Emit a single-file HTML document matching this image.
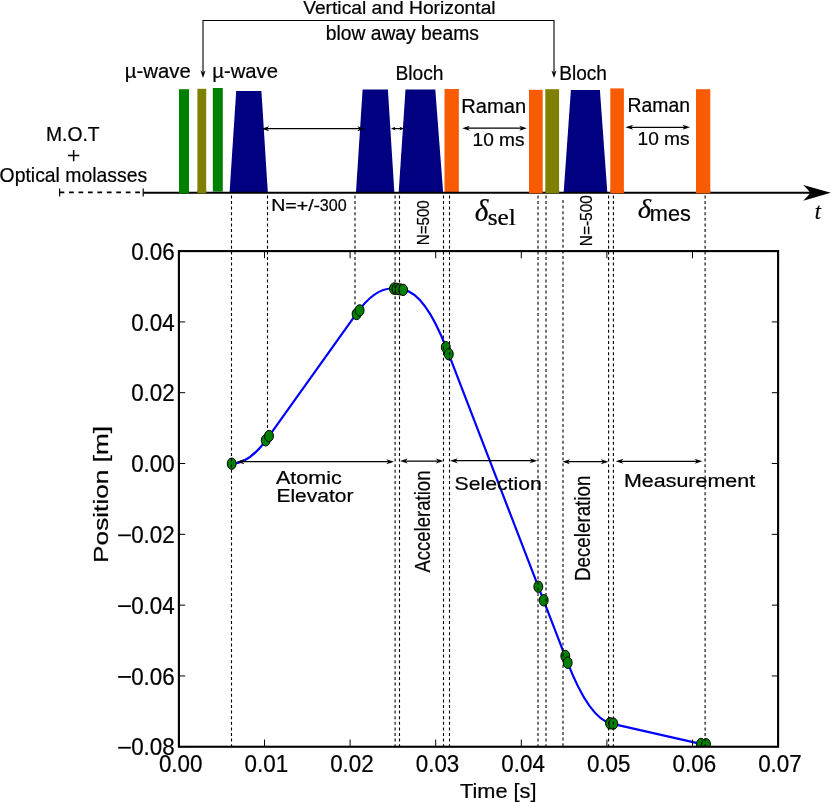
<!DOCTYPE html>
<html><head><meta charset="utf-8"><title>Figure</title>
<style>
html,body{margin:0;padding:0;background:#fff;}
body{width:831px;height:802px;overflow:hidden;font-family:"Liberation Sans",sans-serif;}
svg{display:block;will-change:transform;transform:translateZ(0);}
text{fill:#000;stroke:#000;stroke-width:0.22px;}
</style></head><body>
<svg width="831" height="802" viewBox="0 0 831 802">
<rect width="831" height="802" fill="#fff"/>
<line x1="59.6" y1="192.3" x2="143.2" y2="192.3" stroke="#000" stroke-width="1.7" stroke-dasharray="4.75 4.7"/>
<line x1="59.6" y1="188.6" x2="59.6" y2="196.4" stroke="#000" stroke-width="1.2"/>
<line x1="143.2" y1="188.6" x2="143.2" y2="196.4" stroke="#000" stroke-width="1.2"/>
<rect x="179.0" y="89.2" width="10.00" height="104.10" fill="#008000"/>
<rect x="197.4" y="88.8" width="8.80" height="104.50" fill="#808000"/>
<rect x="212.8" y="88.0" width="10.00" height="103.60" fill="#008000"/>
<polygon points="236.2,91.0 261.4,91.0 267.8,192.0 229.6,192.0" fill="#000080"/>
<polygon points="362.6,89.4 387.9,89.4 394.3,192.0 356.0,192.0" fill="#000080"/>
<polygon points="405.5,89.4 435.3,89.4 443.1,192.0 398.7,192.0" fill="#000080"/>
<rect x="444.5" y="89.0" width="14.35" height="103.50" fill="#f95b02"/>
<rect x="529.0" y="89.8" width="13.70" height="103.50" fill="#f95b02"/>
<rect x="545.3" y="89.2" width="13.80" height="104.10" fill="#808000"/>
<polygon points="570.9,90.0 599.9,90.0 607.3,192.0 563.7,192.0" fill="#000080"/>
<rect x="610.3" y="88.4" width="13.60" height="104.90" fill="#f95b02"/>
<rect x="696.0" y="89.2" width="14.30" height="104.10" fill="#f95b02"/>
<line x1="143.4" y1="192.75" x2="812" y2="192.75" stroke="#000" stroke-width="2"/>
<rect x="179.0" y="190" width="10.00" height="3.30" fill="#008000"/>
<rect x="197.4" y="190" width="8.80" height="3.30" fill="#808000"/>
<rect x="529.0" y="190" width="13.70" height="3.30" fill="#f95b02"/>
<rect x="545.3" y="190" width="13.80" height="3.30" fill="#808000"/>
<rect x="610.3" y="190" width="13.60" height="3.30" fill="#f95b02"/>
<rect x="696.0" y="190" width="14.30" height="3.30" fill="#f95b02"/>
<path d="M830.8,192.75 L803.2,185.0 Q808,189.5 810.4,192.75 Q808,196.2 803.2,200.7 Z" fill="#000"/>
<path d="M68,155.6 H79.3 M73.65,150 V161.2" stroke="#000" stroke-width="1.5" fill="none"/>
<path d="M203,72 L203,20.5 L554,20.5 L554,72" fill="none" stroke="#000" stroke-width="1.1"/>
<path d="M203.0,77.9 L200.5,70.4 L203.0,72.4 L205.5,70.4 Z" fill="#000"/>
<path d="M554.0,77.9 L551.5,70.4 L554.0,72.4 L556.5,70.4 Z" fill="#000"/>
<line x1="264.5" y1="128.7" x2="362.0" y2="128.7" stroke="#000" stroke-width="1.25"/>
<path d="M261.5,128.7 L269.2,126.14999999999999 L267.0,128.7 L269.2,131.25 Z" fill="#000"/>
<path d="M365.0,128.7 L357.3,126.14999999999999 L359.5,128.7 L357.3,131.25 Z" fill="#000"/>
<line x1="394.0" y1="128.6" x2="401.0" y2="128.6" stroke="#000" stroke-width="1.25"/>
<path d="M391.0,128.6 L395.5,126.8 L394.3,128.6 L395.5,130.4 Z" fill="#000"/>
<path d="M404.0,128.6 L399.5,126.8 L400.7,128.6 L399.5,130.4 Z" fill="#000"/>
<line x1="465.2" y1="128.2" x2="523.9" y2="128.2" stroke="#000" stroke-width="1.25"/>
<path d="M462.2,128.2 L469.9,125.64999999999999 L467.7,128.2 L469.9,130.75 Z" fill="#000"/>
<path d="M526.9,128.2 L519.1999999999999,125.64999999999999 L521.4,128.2 L519.1999999999999,130.75 Z" fill="#000"/>
<line x1="628.5" y1="127.3" x2="687.1" y2="127.3" stroke="#000" stroke-width="1.25"/>
<path d="M625.5,127.3 L633.2,124.75 L631.0,127.3 L633.2,129.85 Z" fill="#000"/>
<path d="M690.1,127.3 L682.4,124.75 L684.6,127.3 L682.4,129.85 Z" fill="#000"/>
<clipPath id="pc"><rect x="178.9" y="251.1" width="599.2" height="495.65"/></clipPath>
<g clip-path="url(#pc)">
<path d="M231.7,463.7 Q249.5,463.7 267.4,438.3 L357,312.95 Q376,286.4 395,288.7 L403.1,289.9 Q425.05,292.9 447,349.7 L567,661.1 Q589.25,718.7 611.5,723.6 L704,744.6" fill="none" stroke="#0000ff" stroke-width="2.2" stroke-linejoin="round"/>
<ellipse cx="231.7" cy="463.7" rx="4.45" ry="5.7" fill="#008000" stroke="#000" stroke-width="1.0"/>
<ellipse cx="265.7" cy="440.3" rx="4.45" ry="5.7" fill="#008000" stroke="#000" stroke-width="1.0"/>
<ellipse cx="269" cy="436" rx="4.45" ry="5.7" fill="#008000" stroke="#000" stroke-width="1.0"/>
<ellipse cx="356.6" cy="314" rx="4.45" ry="5.7" fill="#008000" stroke="#000" stroke-width="1.0"/>
<ellipse cx="359.6" cy="310.4" rx="4.45" ry="5.7" fill="#008000" stroke="#000" stroke-width="1.0"/>
<ellipse cx="394" cy="288.6" rx="4.45" ry="5.7" fill="#008000" stroke="#000" stroke-width="1.0"/>
<ellipse cx="396.5" cy="288.9" rx="4.45" ry="5.7" fill="#008000" stroke="#000" stroke-width="1.0"/>
<ellipse cx="399.8" cy="289.4" rx="4.45" ry="5.7" fill="#008000" stroke="#000" stroke-width="1.0"/>
<ellipse cx="403.1" cy="289.9" rx="4.45" ry="5.7" fill="#008000" stroke="#000" stroke-width="1.0"/>
<ellipse cx="445.8" cy="347.2" rx="4.45" ry="5.7" fill="#008000" stroke="#000" stroke-width="1.0"/>
<ellipse cx="448.8" cy="354.2" rx="4.45" ry="5.7" fill="#008000" stroke="#000" stroke-width="1.0"/>
<ellipse cx="538.3" cy="586.7" rx="4.45" ry="5.7" fill="#008000" stroke="#000" stroke-width="1.0"/>
<ellipse cx="543.7" cy="600.3" rx="4.45" ry="5.7" fill="#008000" stroke="#000" stroke-width="1.0"/>
<ellipse cx="565.3" cy="656" rx="4.45" ry="5.7" fill="#008000" stroke="#000" stroke-width="1.0"/>
<ellipse cx="567.7" cy="662.7" rx="4.45" ry="5.7" fill="#008000" stroke="#000" stroke-width="1.0"/>
<ellipse cx="610" cy="723.3" rx="4.45" ry="5.7" fill="#008000" stroke="#000" stroke-width="1.0"/>
<ellipse cx="613.3" cy="723.7" rx="4.45" ry="5.7" fill="#008000" stroke="#000" stroke-width="1.0"/>
<ellipse cx="701" cy="744" rx="4.45" ry="5.7" fill="#008000" stroke="#000" stroke-width="1.0"/>
<ellipse cx="706" cy="744.3" rx="4.45" ry="5.7" fill="#008000" stroke="#000" stroke-width="1.0"/>
</g>
<rect x="178.9" y="251.1" width="599.2" height="495.65" fill="none" stroke="#000" stroke-width="2.1"/>
<line x1="178.90" y1="746.75" x2="178.90" y2="739.55" stroke="#000" stroke-width="1"/>
<line x1="178.90" y1="251.1" x2="178.90" y2="258.3" stroke="#000" stroke-width="1"/>
<line x1="264.50" y1="746.75" x2="264.50" y2="739.55" stroke="#000" stroke-width="1"/>
<line x1="264.50" y1="251.1" x2="264.50" y2="258.3" stroke="#000" stroke-width="1"/>
<line x1="350.10" y1="746.75" x2="350.10" y2="739.55" stroke="#000" stroke-width="1"/>
<line x1="350.10" y1="251.1" x2="350.10" y2="258.3" stroke="#000" stroke-width="1"/>
<line x1="435.70" y1="746.75" x2="435.70" y2="739.55" stroke="#000" stroke-width="1"/>
<line x1="435.70" y1="251.1" x2="435.70" y2="258.3" stroke="#000" stroke-width="1"/>
<line x1="521.30" y1="746.75" x2="521.30" y2="739.55" stroke="#000" stroke-width="1"/>
<line x1="521.30" y1="251.1" x2="521.30" y2="258.3" stroke="#000" stroke-width="1"/>
<line x1="606.90" y1="746.75" x2="606.90" y2="739.55" stroke="#000" stroke-width="1"/>
<line x1="606.90" y1="251.1" x2="606.90" y2="258.3" stroke="#000" stroke-width="1"/>
<line x1="692.50" y1="746.75" x2="692.50" y2="739.55" stroke="#000" stroke-width="1"/>
<line x1="692.50" y1="251.1" x2="692.50" y2="258.3" stroke="#000" stroke-width="1"/>
<line x1="778.10" y1="746.75" x2="778.10" y2="739.55" stroke="#000" stroke-width="1"/>
<line x1="778.10" y1="251.1" x2="778.10" y2="258.3" stroke="#000" stroke-width="1"/>
<line x1="178.9" y1="251.10" x2="185.20000000000002" y2="251.10" stroke="#000" stroke-width="1"/>
<line x1="778.1" y1="251.10" x2="771.8000000000001" y2="251.10" stroke="#000" stroke-width="1"/>
<line x1="178.9" y1="321.91" x2="185.20000000000002" y2="321.91" stroke="#000" stroke-width="1"/>
<line x1="778.1" y1="321.91" x2="771.8000000000001" y2="321.91" stroke="#000" stroke-width="1"/>
<line x1="178.9" y1="392.71" x2="185.20000000000002" y2="392.71" stroke="#000" stroke-width="1"/>
<line x1="778.1" y1="392.71" x2="771.8000000000001" y2="392.71" stroke="#000" stroke-width="1"/>
<line x1="178.9" y1="463.52" x2="185.20000000000002" y2="463.52" stroke="#000" stroke-width="1"/>
<line x1="778.1" y1="463.52" x2="771.8000000000001" y2="463.52" stroke="#000" stroke-width="1"/>
<line x1="178.9" y1="534.33" x2="185.20000000000002" y2="534.33" stroke="#000" stroke-width="1"/>
<line x1="778.1" y1="534.33" x2="771.8000000000001" y2="534.33" stroke="#000" stroke-width="1"/>
<line x1="178.9" y1="605.14" x2="185.20000000000002" y2="605.14" stroke="#000" stroke-width="1"/>
<line x1="778.1" y1="605.14" x2="771.8000000000001" y2="605.14" stroke="#000" stroke-width="1"/>
<line x1="178.9" y1="675.94" x2="185.20000000000002" y2="675.94" stroke="#000" stroke-width="1"/>
<line x1="778.1" y1="675.94" x2="771.8000000000001" y2="675.94" stroke="#000" stroke-width="1"/>
<line x1="178.9" y1="746.75" x2="185.20000000000002" y2="746.75" stroke="#000" stroke-width="1"/>
<line x1="778.1" y1="746.75" x2="771.8000000000001" y2="746.75" stroke="#000" stroke-width="1"/>
<line x1="231.5" y1="195.4" x2="231.5" y2="746.5" stroke="#000" stroke-width="1.1" stroke-dasharray="3 2.6"/>
<line x1="267.5" y1="195.4" x2="267.5" y2="430.2" stroke="#000" stroke-width="1.1" stroke-dasharray="3 2.6"/>
<line x1="355.0" y1="195.4" x2="355.0" y2="304.6" stroke="#000" stroke-width="1.1" stroke-dasharray="3 2.6"/>
<line x1="395.1" y1="195.4" x2="395.1" y2="746.5" stroke="#000" stroke-width="1.1" stroke-dasharray="3 2.6"/>
<line x1="399.5" y1="195.4" x2="399.5" y2="746.5" stroke="#000" stroke-width="1.1" stroke-dasharray="3 2.6"/>
<line x1="443.5" y1="195.4" x2="443.5" y2="746.5" stroke="#000" stroke-width="1.1" stroke-dasharray="3 2.6"/>
<line x1="449.5" y1="195.4" x2="449.5" y2="746.5" stroke="#000" stroke-width="1.1" stroke-dasharray="3 2.6"/>
<line x1="538.0" y1="195.4" x2="538.0" y2="746.5" stroke="#000" stroke-width="1.1" stroke-dasharray="3 2.6"/>
<line x1="546.0" y1="195.4" x2="546.0" y2="746.5" stroke="#000" stroke-width="1.1" stroke-dasharray="3 2.6"/>
<line x1="563.0" y1="200.0" x2="563.0" y2="746.5" stroke="#000" stroke-width="1.1" stroke-dasharray="3 2.6"/>
<line x1="608.6" y1="195.4" x2="608.6" y2="746.5" stroke="#000" stroke-width="1.1" stroke-dasharray="3 2.6"/>
<line x1="613.4" y1="195.4" x2="613.4" y2="746.5" stroke="#000" stroke-width="1.1" stroke-dasharray="3 2.6"/>
<line x1="705.1" y1="195.4" x2="705.1" y2="746.5" stroke="#000" stroke-width="1.1" stroke-dasharray="3 2.6"/>
<line x1="239.7" y1="461.7" x2="391.0" y2="461.7" stroke="#000" stroke-width="1.25"/>
<path d="M236.7,461.7 L244.39999999999998,459.15 L242.2,461.7 L244.39999999999998,464.25 Z" fill="#000"/>
<path d="M394.0,461.7 L386.3,459.15 L388.5,461.7 L386.3,464.25 Z" fill="#000"/>
<line x1="403.0" y1="461.0" x2="440.5" y2="461.0" stroke="#000" stroke-width="1.25"/>
<path d="M400.0,461.0 L407.7,458.45 L405.5,461.0 L407.7,463.55 Z" fill="#000"/>
<path d="M443.5,461.0 L435.8,458.45 L438.0,461.0 L435.8,463.55 Z" fill="#000"/>
<line x1="453.0" y1="460.7" x2="534.3" y2="460.7" stroke="#000" stroke-width="1.25"/>
<path d="M450.0,460.7 L457.7,458.15 L455.5,460.7 L457.7,463.25 Z" fill="#000"/>
<path d="M537.3,460.7 L529.5999999999999,458.15 L531.8,460.7 L529.5999999999999,463.25 Z" fill="#000"/>
<line x1="565.3" y1="461.7" x2="605.5" y2="461.7" stroke="#000" stroke-width="1.25"/>
<path d="M562.3,461.7 L570.0,459.15 L567.8,461.7 L570.0,464.25 Z" fill="#000"/>
<path d="M608.5,461.7 L600.8,459.15 L603.0,461.7 L600.8,464.25 Z" fill="#000"/>
<line x1="618.7" y1="461.3" x2="699.3" y2="461.3" stroke="#000" stroke-width="1.25"/>
<path d="M615.7,461.3 L623.4000000000001,458.75 L621.2,461.3 L623.4000000000001,463.85 Z" fill="#000"/>
<path d="M702.3,461.3 L694.5999999999999,458.75 L696.8,461.3 L694.5999999999999,463.85 Z" fill="#000"/>
<text x="174.76" y="259.80" text-anchor="end" font-family="Liberation Sans" font-size="23.58" textLength="43.61" lengthAdjust="spacingAndGlyphs">0.06</text>
<text x="174.76" y="330.61" text-anchor="end" font-family="Liberation Sans" font-size="23.58" textLength="43.61" lengthAdjust="spacingAndGlyphs">0.04</text>
<text x="174.76" y="401.41" text-anchor="end" font-family="Liberation Sans" font-size="23.58" textLength="43.61" lengthAdjust="spacingAndGlyphs">0.02</text>
<text x="174.76" y="472.22" text-anchor="end" font-family="Liberation Sans" font-size="23.58" textLength="43.61" lengthAdjust="spacingAndGlyphs">0.00</text>
<text x="174.76" y="543.03" text-anchor="end" font-family="Liberation Sans" font-size="23.58" textLength="43.61" lengthAdjust="spacingAndGlyphs">0.02</text>
<line x1="118.2" y1="535.33" x2="130.9" y2="535.33" stroke="#000" stroke-width="1.8"/>
<text x="174.76" y="613.84" text-anchor="end" font-family="Liberation Sans" font-size="23.58" textLength="43.61" lengthAdjust="spacingAndGlyphs">0.04</text>
<line x1="118.2" y1="606.14" x2="130.9" y2="606.14" stroke="#000" stroke-width="1.8"/>
<text x="174.76" y="684.64" text-anchor="end" font-family="Liberation Sans" font-size="23.58" textLength="43.61" lengthAdjust="spacingAndGlyphs">0.06</text>
<line x1="118.2" y1="676.94" x2="130.9" y2="676.94" stroke="#000" stroke-width="1.8"/>
<text x="174.76" y="755.45" text-anchor="end" font-family="Liberation Sans" font-size="23.58" textLength="43.61" lengthAdjust="spacingAndGlyphs">0.08</text>
<line x1="118.2" y1="747.75" x2="130.9" y2="747.75" stroke="#000" stroke-width="1.8"/>
<text x="180.71" y="771.9" text-anchor="middle" font-family="Liberation Sans" font-size="23.41" textLength="43.55" lengthAdjust="spacingAndGlyphs">0.00</text>
<text x="266.31" y="771.9" text-anchor="middle" font-family="Liberation Sans" font-size="23.41" textLength="43.55" lengthAdjust="spacingAndGlyphs">0.01</text>
<text x="351.91" y="771.9" text-anchor="middle" font-family="Liberation Sans" font-size="23.41" textLength="43.55" lengthAdjust="spacingAndGlyphs">0.02</text>
<text x="437.51" y="771.9" text-anchor="middle" font-family="Liberation Sans" font-size="23.41" textLength="43.55" lengthAdjust="spacingAndGlyphs">0.03</text>
<text x="523.12" y="771.9" text-anchor="middle" font-family="Liberation Sans" font-size="23.41" textLength="43.55" lengthAdjust="spacingAndGlyphs">0.04</text>
<text x="608.71" y="771.9" text-anchor="middle" font-family="Liberation Sans" font-size="23.41" textLength="43.55" lengthAdjust="spacingAndGlyphs">0.05</text>
<text x="694.31" y="771.9" text-anchor="middle" font-family="Liberation Sans" font-size="23.41" textLength="43.55" lengthAdjust="spacingAndGlyphs">0.06</text>
<text x="779.91" y="771.9" text-anchor="middle" font-family="Liberation Sans" font-size="23.41" textLength="43.55" lengthAdjust="spacingAndGlyphs">0.07</text>
<text x="303.15" y="14.4" font-family="Liberation Sans" font-size="19.2" textLength="192.48" lengthAdjust="spacingAndGlyphs">Vertical and Horizontal</text>
<text x="325.66" y="39.5" font-family="Liberation Sans" font-size="19.6" textLength="153.27" lengthAdjust="spacingAndGlyphs">blow away beams</text>
<text x="124.8" y="77.7" font-family="Liberation Sans" font-size="20.5" textLength="65.89" lengthAdjust="spacingAndGlyphs">µ-wave</text>
<text x="212.31" y="77.7" font-family="Liberation Sans" font-size="20.5" textLength="65.68" lengthAdjust="spacingAndGlyphs">µ-wave</text>
<text x="395.43" y="80.3" font-family="Liberation Sans" font-size="20.0" textLength="48.05" lengthAdjust="spacingAndGlyphs">Bloch</text>
<text x="559.24" y="80.3" font-family="Liberation Sans" font-size="20.0" textLength="47.74" lengthAdjust="spacingAndGlyphs">Bloch</text>
<text x="461.36" y="112.6" font-family="Liberation Sans" font-size="19.5" textLength="64.76" lengthAdjust="spacingAndGlyphs">Raman</text>
<text x="472.56" y="145.8" font-family="Liberation Sans" font-size="19.0" textLength="52.0" lengthAdjust="spacingAndGlyphs">10 ms</text>
<text x="627.6" y="111.7" font-family="Liberation Sans" font-size="19.3" textLength="62.38" lengthAdjust="spacingAndGlyphs">Raman</text>
<text x="637.56" y="145.2" font-family="Liberation Sans" font-size="19.0" textLength="52.0" lengthAdjust="spacingAndGlyphs">10 ms</text>
<text x="46.02" y="141.0" font-family="Liberation Sans" font-size="19.8" textLength="53.54" lengthAdjust="spacingAndGlyphs">M.O.T</text>
<text x="-0.38" y="182.0" font-family="Liberation Sans" font-size="19.8" textLength="147.47" lengthAdjust="spacingAndGlyphs">Optical molasses</text>
<text x="271.19" y="210.7" font-family="Liberation Sans" font-size="16.3" textLength="48.93" lengthAdjust="spacingAndGlyphs">N=+/-</text>
<text x="319.81" y="210.7" font-family="Liberation Sans" font-size="16.3" textLength="26.87" lengthAdjust="spacingAndGlyphs">300</text>
<text x="474.86" y="221.22" font-family="Liberation Serif" font-size="31.21" font-style="italic" textLength="13.62" lengthAdjust="spacingAndGlyphs">δ</text>
<text x="487.65" y="224.8" font-family="Liberation Serif" font-size="22.05" textLength="28.21" lengthAdjust="spacingAndGlyphs">sel</text>
<text x="637.78" y="218.3" font-family="Liberation Serif" font-size="27.84" font-style="italic" textLength="13.26" lengthAdjust="spacingAndGlyphs">δ</text>
<text x="649.85" y="221.2" font-family="Liberation Sans" font-size="21.38" textLength="40.94" lengthAdjust="spacingAndGlyphs">mes</text>
<text x="814.84" y="218.9" font-family="Liberation Serif" font-size="22.18" font-style="italic" textLength="6.18" lengthAdjust="spacingAndGlyphs">t</text>
<text x="459.95" y="797.5" font-family="Liberation Sans" font-size="19.8" textLength="76.62" lengthAdjust="spacingAndGlyphs">Time [s]</text>
<text x="276.05" y="483.7" font-family="Liberation Sans" font-size="17.5" textLength="65.63" lengthAdjust="spacingAndGlyphs">Atomic</text>
<text x="276.43" y="502.3" font-family="Liberation Sans" font-size="17.5" textLength="77.16" lengthAdjust="spacingAndGlyphs">Elevator</text>
<text x="454.58" y="490.3" font-family="Liberation Sans" font-size="19.0" textLength="87.13" lengthAdjust="spacingAndGlyphs">Selection</text>
<text x="624.01" y="486.9" font-family="Liberation Sans" font-size="18.0" textLength="131.11" lengthAdjust="spacingAndGlyphs">Measurement</text>
<text transform="translate(429.0,244.2) rotate(-90)" x="-1.09" y="0" font-family="Liberation Sans" font-size="16.27" textLength="45.04" lengthAdjust="spacingAndGlyphs">N=500</text>
<text transform="translate(592.3,245.2) rotate(-90)" x="-1.12" y="0" font-family="Liberation Sans" font-size="16.27" textLength="51.29" lengthAdjust="spacingAndGlyphs">N=-500</text>
<text transform="translate(429.7,572.5) rotate(-90)" x="-0.12" y="0" font-family="Liberation Sans" font-size="21.32" textLength="102.05" lengthAdjust="spacingAndGlyphs">Acceleration</text>
<text transform="translate(590.4,579.3) rotate(-90)" x="-1.76" y="0" font-family="Liberation Sans" font-size="21.38" textLength="105.47" lengthAdjust="spacingAndGlyphs">Deceleration</text>
<text transform="translate(107.8,561.2) rotate(-90)" x="-1.73" y="0" font-family="Liberation Sans" font-size="20" textLength="136.98" lengthAdjust="spacingAndGlyphs">Position [m]</text>
</svg>
</body></html>
